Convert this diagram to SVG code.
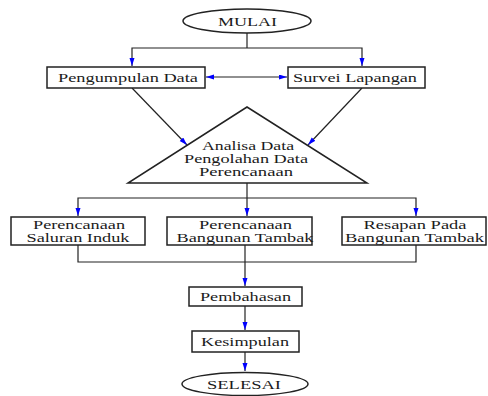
<svg xmlns="http://www.w3.org/2000/svg" width="488" height="396" viewBox="0 0 488 396">
<style>
.n{fill:#fff;stroke:#222;stroke-width:1.5}
.t{font-family:"Liberation Serif","Times New Roman",serif;font-size:13px;fill:#1a1a1a;text-anchor:middle}
.s{font-size:12px}
.c{fill:none;stroke:#222;stroke-width:1.2}
</style>
<defs>
<marker id="a" markerUnits="userSpaceOnUse" markerWidth="9" markerHeight="6" refX="8" refY="2.5" orient="auto-start-reverse">
<path d="M0,0 L8,2.5 L0,5 z" fill="#0000ff"/>
</marker>
</defs>
<rect width="488" height="396" fill="#fff"/>
<g id="connectors">
<path class="c" d="M247,33 V48"/>
<path class="c" d="M132,66 V48 H362 V66" marker-start="url(#a)" marker-end="url(#a)"/>
<path class="c" d="M206,77 H287" marker-start="url(#a)" marker-end="url(#a)"/>
<path class="c" d="M132,88 L187,145" marker-end="url(#a)"/>
<path class="c" d="M362,88 L308,145" marker-end="url(#a)"/>
<path class="c" d="M247,183 V216" marker-end="url(#a)"/>
<path class="c" d="M78,216 V198 H416 V216" marker-start="url(#a)" marker-end="url(#a)"/>
<path class="c" d="M78,245 V262 H416 V245"/>
<path class="c" d="M245,245 V286" marker-end="url(#a)"/>
<path class="c" d="M245,306 V330" marker-end="url(#a)"/>
<path class="c" d="M245,352 V371" marker-end="url(#a)"/>
</g>
<g id="mulai">
<ellipse class="n" cx="247" cy="21" rx="64" ry="12"/>
<text class="t" x="247.5" y="25.5" textLength="59" lengthAdjust="spacingAndGlyphs">MULAI</text>
</g>
<g id="pengumpulan">
<rect class="n" x="47" y="67" width="158" height="21"/>
<text class="t" x="128" y="81.5" textLength="140" lengthAdjust="spacingAndGlyphs">Pengumpulan Data</text>
</g>
<g id="survei">
<rect class="n" x="288" y="67" width="137" height="21"/>
<text class="t" x="355" y="81.5" textLength="124" lengthAdjust="spacingAndGlyphs">Survei Lapangan</text>
</g>
<g id="analisa">
<polygon class="n" points="247,107 367,183 128,183"/>
<text class="t s" x="248" y="149.5" textLength="92" lengthAdjust="spacingAndGlyphs">Analisa Data</text>
<text class="t s" x="246" y="162.5" textLength="124" lengthAdjust="spacingAndGlyphs">Pengolahan Data</text>
<text class="t s" x="246" y="175.5" textLength="94" lengthAdjust="spacingAndGlyphs">Perencanaan</text>
</g>
<g id="saluran">
<rect class="n" x="11" y="217" width="134" height="28"/>
<text class="t s" x="79" y="228.5" textLength="92" lengthAdjust="spacingAndGlyphs">Perencanaan</text>
<text class="t s" x="78" y="241.5" textLength="103" lengthAdjust="spacingAndGlyphs">Saluran Induk</text>
</g>
<g id="bangunan">
<rect class="n" x="167" y="217" width="145" height="28"/>
<text class="t s" x="245.5" y="228.5" textLength="93" lengthAdjust="spacingAndGlyphs">Perencanaan</text>
<text class="t s" x="245" y="241.5" textLength="137" lengthAdjust="spacingAndGlyphs">Bangunan Tambak</text>
</g>
<g id="resapan">
<rect class="n" x="342" y="217" width="144" height="28"/>
<text class="t s" x="415" y="228.5" textLength="103" lengthAdjust="spacingAndGlyphs">Resapan Pada</text>
<text class="t s" x="414.5" y="241.5" textLength="139" lengthAdjust="spacingAndGlyphs">Bangunan Tambak</text>
</g>
<g id="pembahasan">
<rect class="n" x="189" y="287" width="113" height="19"/>
<text class="t" x="245.5" y="300.5" textLength="91" lengthAdjust="spacingAndGlyphs">Pembahasan</text>
</g>
<g id="kesimpulan">
<rect class="n" x="192" y="331" width="107" height="21"/>
<text class="t" x="245" y="345.5" textLength="88" lengthAdjust="spacingAndGlyphs">Kesimpulan</text>
</g>
<g id="selesai">
<ellipse class="n" cx="245" cy="384" rx="63" ry="11.5"/>
<text class="t" x="244" y="389" textLength="74" lengthAdjust="spacingAndGlyphs">SELESAI</text>
</g>
</svg>
